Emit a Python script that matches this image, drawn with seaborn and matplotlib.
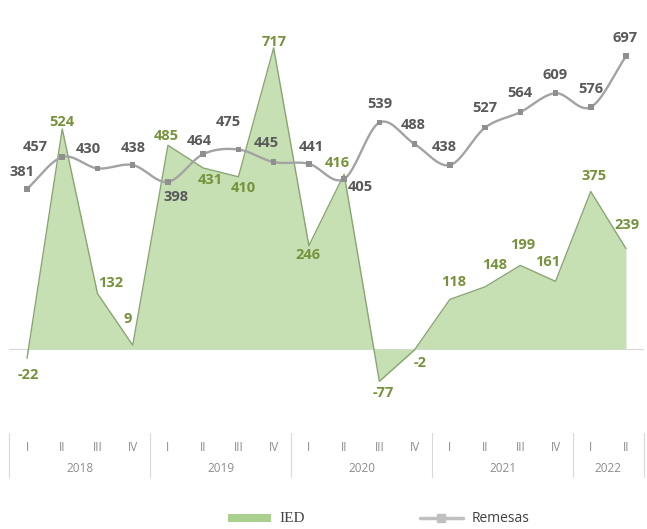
import numpy as np
import pandas as pd
import matplotlib
matplotlib.use("Agg")
import matplotlib.pyplot as plt
import matplotlib.transforms as mtransforms
from matplotlib.patches import Patch
from matplotlib.lines import Line2D
import seaborn as sns

# ---------------- data ----------------
years = ["2018", "2019", "2020", "2021", "2022"]
quarters_per_year = [4, 4, 4, 4, 2]
quarter_names = ["I", "II", "III", "IV"]
ied = [-22, 524, 132, 9, 485, 431, 410, 717, 246, 416, -77, -2, 118, 148, 199, 161, 375, 239]
remesas = [381, 457, 430, 438, 398, 464, 475, 445, 441, 405, 539, 488, 438, 527, 564, 609, 576, 697]

# label offsets (pixels)
ied_off = [(1, -17), (0, 7), (13, 11), (-5, 26), (-2, 9), (7, -12), (5, -11), (1, 6), (-1, -9),
           (-7, 11), (4, -12), (6, -13), (4, 17), (10, 22), (2, 20), (-8, 19), (3, 15), (1, 24)]
rem_off = [(-5, 17), (-27, 10), (-9, 19), (1, 17), (8, -15), (-4, 13), (-10, 27), (-7, 19), (2, 17),
           (16, -8), (0, 19), (-1, 19), (-6, 18), (0, 20), (0, 19), (0, 18), (0, 18), (-1, 18)]

quarter_labels = [quarter_names[q] for n in quarters_per_year for q in range(n)]
idx = np.arange(len(ied))
df = pd.DataFrame({"x": idx, "IED": ied, "Remesas": remesas})

sns.set_theme(style="white")
plt.rcParams["font.family"] = ["Open Sans", "DejaVu Sans"]

W, H = 647, 529
fig = plt.figure(figsize=(W / 100, H / 100), dpi=100)
top_px, bot_px = 20, 400
left_px, right_px = 9.4, 643.6
ax = fig.add_axes([left_px / W, 1 - bot_px / H, (right_px - left_px) / W, (bot_px - top_px) / H])
zero_px, scale = 349, 0.42
ax.set_xlim(-0.5, len(ied) - 0.5)
ax.set_ylim((zero_px - bot_px) / scale, (zero_px - top_px) / scale)
for s in ax.spines.values():
    s.set_visible(False)
ax.set_yticks([])

# IED area
fill_c = "#c6e0b4"
edge_c = "#8aa573"
ax.fill_between(df["x"], 0, df["IED"], color=fill_c, linewidth=0, zorder=1)
sns.lineplot(data=df, x="x", y="IED", color=edge_c, linewidth=1.0, ax=ax, zorder=2, legend=False)
ax.axhline(0, color="#d9d9d9", linewidth=0.8, zorder=0.5)

# Remesas smooth line (Catmull-Rom through the data points)
xs = df["x"].to_numpy(float)
ys = df["Remesas"].to_numpy(float)
P = np.column_stack([xs, ys])
Pext = np.vstack([2 * P[0] - P[1], P, 2 * P[-1] - P[-2]])
curve = []
t = np.linspace(0, 1, 20)
for i in range(1, len(Pext) - 2):
    p0, p1, p2, p3 = Pext[i - 1], Pext[i], Pext[i + 1], Pext[i + 2]
    tension = 0.5
    m1 = (p2 - p0) * tension
    m2 = (p3 - p1) * tension
    tt = t[:, None]
    h00 = 2 * tt**3 - 3 * tt**2 + 1
    h10 = tt**3 - 2 * tt**2 + tt
    h01 = -2 * tt**3 + 3 * tt**2
    h11 = tt**3 - tt**2
    seg = h00 * p1 + h10 * m1 + h01 * p2 + h11 * m2
    curve.append(seg if i == 1 else seg[1:])
curve = np.vstack(curve)
line_c = "#a3a3a3"
ax.plot(curve[:, 0], curve[:, 1], color=line_c, linewidth=1.7, zorder=3, solid_capstyle="round")
sns.scatterplot(data=df, x="x", y="Remesas", marker="s", s=16, color="#8f8f8f",
                edgecolor="none", ax=ax, zorder=4, legend=False)

# data labels
ied_c = "#76923c"
rem_c = "#595959"
for i, v in enumerate(ied):
    ax.annotate(str(v), (i, v), xytext=ied_off[i], textcoords="offset pixels",
                ha="center", va="center", fontsize=10.5, fontweight="bold", color=ied_c, zorder=5)
for i, v in enumerate(remesas):
    ax.annotate(str(v), (i, v), xytext=rem_off[i], textcoords="offset pixels",
                ha="center", va="center", fontsize=10.5, fontweight="bold", color=rem_c, zorder=5)

# x axis: quarters and years
ax.set_xticks(idx)
ax.set_xticklabels(quarter_labels, fontsize=8.5, color="#8c8c8c")
ax.tick_params(axis="x", length=0, pad=(447 - bot_px - 6) * 0.72)
ax.set_xlabel("")
ax.set_ylabel("")
trans = mtransforms.blended_transform_factory(ax.transData, ax.transAxes)
axh = bot_px - top_px
def ay(px):
    return (bot_px - px) / axh
bounds = [-0.5]
for n in quarters_per_year:
    bounds.append(bounds[-1] + n)
for b in bounds:
    ax.plot([b, b], [ay(433), ay(477)], transform=trans, color="#d9d9d9", linewidth=0.8, clip_on=False)
for k, y in enumerate(years):
    mid = (bounds[k] + bounds[k + 1]) / 2
    ax.text(mid, ay(469), y, transform=trans, ha="center", va="center", fontsize=8.5, color="#8c8c8c")

# legend
handles = [Patch(facecolor="#a9d08e", edgecolor="none"),
           Line2D([0], [0], color="#bfbfbf", linewidth=2.5, marker="s", markersize=6,
                  markerfacecolor="#bfbfbf", markeredgecolor="#bfbfbf")]
leg = fig.legend(handles, ["IED", "Remesas"], loc="center", bbox_to_anchor=(0.585, 1 - 519 / H),
                 ncol=2, frameon=False, fontsize=10, handlelength=3.1, handleheight=0.5,
                 handletextpad=0.6, columnspacing=8.3, labelcolor="#404040")
leg.get_texts()[0].set_fontfamily(["Liberation Serif", "DejaVu Serif"])
leg.get_texts()[0].set_fontsize(11)

fig.savefig("out.png", dpi=100)
